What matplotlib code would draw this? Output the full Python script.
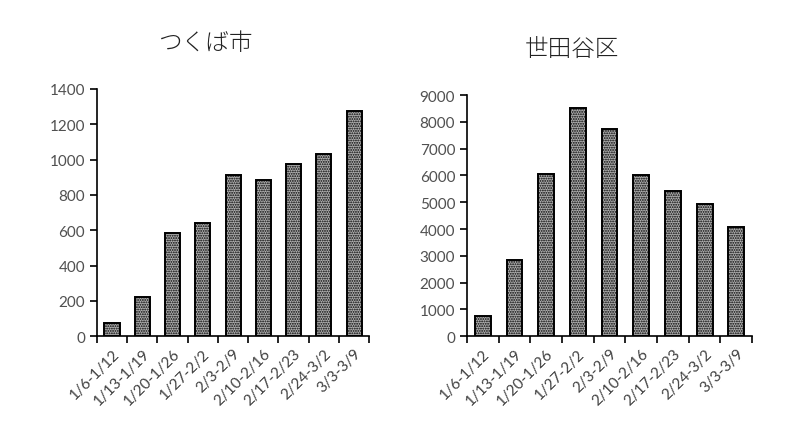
import matplotlib
matplotlib.use("Agg")
import matplotlib.pyplot as plt
import numpy as np

plt.rcParams['font.family'] = ['Lato', 'Noto Sans CJK JP', 'DejaVu Sans']
plt.rcParams['hatch.linewidth'] = 0.9

# 週ごとの区間
weeks = ['1/6-1/12', '1/13-1/19', '1/20-1/26', '1/27-2/2', '2/3-2/9',
         '2/10-2/16', '2/17-2/23', '2/24-3/2', '3/3-3/9']

# つくば市
tsukuba = [75, 220, 585, 640, 915, 885, 975, 1030, 1275]
# 世田谷区
setagaya = [750, 2830, 6050, 8530, 7730, 6000, 5420, 4920, 4090]

fig = plt.figure(figsize=(8.01, 4.39), dpi=100)
ax1 = fig.add_axes([0.121, 0.232, 0.340, 0.563])
ax2 = fig.add_axes([0.583, 0.232, 0.356, 0.549])


def draw(ax, values, ymax, step, title, pos):
    x = np.arange(len(values))
    ax.bar(x, values, width=0.5, facecolor='#b0b0b0', edgecolor='black',
           linewidth=1.4, hatch='.......')
    ax.set_xlim(-0.5, len(values) - 0.5)
    ax.set_ylim(0, ymax)
    ax.set_yticks(np.arange(0, ymax + 1, step))
    # 目盛り線は区間の境目、ラベルは中央
    ax.set_xticks(np.arange(-0.5, len(values), 1))
    ax.set_xticklabels([])
    ax.set_xticks(x, minor=True)
    ax.set_xticklabels(weeks, minor=True, rotation=45, ha='right',
                       rotation_mode='anchor', fontsize=11, color='#404040')
    ax.tick_params(axis='x', which='minor', length=0, pad=7)
    ax.tick_params(axis='x', which='major', direction='out', length=5, width=1.2)
    ax.tick_params(axis='y', direction='out', length=5, width=1.2,
                   labelsize=11, labelcolor='#505050')
    for s in ['top', 'right']:
        ax.spines[s].set_visible(False)
    for s in ['left', 'bottom']:
        ax.spines[s].set_linewidth(1.2)
    fig.text(pos[0], pos[1], title, fontsize=17, ha='center', va='center',
             color='#222222', family='Noto Sans CJK JP', fontweight='light')


draw(ax1, tsukuba, 1400, 200, 'つくば市', (0.256, 0.902))
draw(ax2, setagaya, 9000, 1000, '世田谷区', (0.714, 0.888))

fig.savefig('out.png', dpi=100)
